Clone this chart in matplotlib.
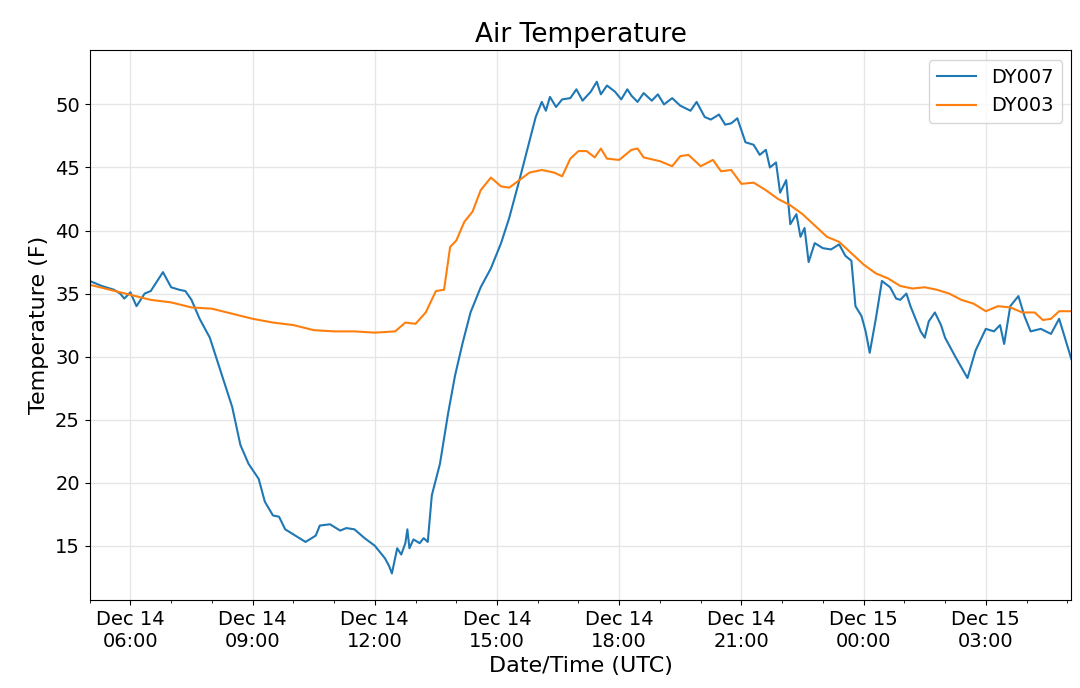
import numpy as np
import pandas as pd
import matplotlib
matplotlib.use("Agg")
import matplotlib.pyplot as plt
import matplotlib.dates as mdates

base = pd.Timestamp("2018-12-14 00:00")

# hours since Dec 14 00:00 UTC, temperature (F)
dy007_hours = [5.0, 5.3, 5.6, 5.75, 5.85, 6.0, 6.15, 6.35, 6.5, 6.8, 7.0, 7.2, 7.35, 7.5, 7.7, 7.95,
               8.2, 8.5, 8.7, 8.9, 9.15, 9.3, 9.5, 9.65, 9.8, 10.05, 10.3, 10.55, 10.65, 10.9, 11.15,
               11.3, 11.5, 11.75, 12.0, 12.25, 12.35, 12.42, 12.55, 12.65, 12.75, 12.8, 12.85, 12.95,
               13.1, 13.2, 13.3, 13.4, 13.6, 13.8, 13.97, 14.15, 14.35, 14.6, 14.85, 15.1, 15.3, 15.55,
               15.75, 15.95, 16.1, 16.2, 16.3, 16.45, 16.6, 16.8, 16.95, 17.1, 17.3, 17.45, 17.55, 17.7,
               17.9, 18.05, 18.2, 18.3, 18.45, 18.6, 18.8, 18.95, 19.1, 19.3, 19.5, 19.75, 19.9, 20.1,
               20.25, 20.45, 20.6, 20.75, 20.9, 21.1, 21.3, 21.45, 21.6, 21.7, 21.85, 21.95, 22.1, 22.2,
               22.35, 22.45, 22.55, 22.65, 22.8, 23.0, 23.2, 23.4, 23.55, 23.7, 23.8, 23.95, 24.05, 24.15,
               24.3, 24.45, 24.65, 24.8, 24.9, 25.05, 25.15, 25.3, 25.4, 25.5, 25.6, 25.75, 25.9, 26.0,
               26.25, 26.55, 26.75, 27.0, 27.2, 27.35, 27.45, 27.6, 27.8, 27.95, 28.1, 28.35, 28.6, 28.8, 29.1]
dy007_temp = [36.0, 35.6, 35.3, 35.0, 34.6, 35.1, 34.0, 35.0, 35.2, 36.7, 35.5, 35.3, 35.2, 34.5, 33.0, 31.5,
              29.0, 26.0, 23.0, 21.5, 20.3, 18.5, 17.4, 17.3, 16.3, 15.8, 15.3, 15.8, 16.6, 16.7, 16.2,
              16.4, 16.3, 15.6, 15.0, 14.0, 13.4, 12.8, 14.8, 14.3, 15.2, 16.3, 14.8, 15.5,
              15.2, 15.6, 15.3, 19.0, 21.5, 25.5, 28.5, 31.0, 33.5, 35.5, 37.0, 39.0, 41.0, 44.0,
              46.5, 49.0, 50.2, 49.5, 50.6, 49.8, 50.4, 50.5, 51.2, 50.3, 51.0, 51.8, 50.8, 51.5,
              51.0, 50.4, 51.2, 50.7, 50.2, 50.9, 50.3, 50.8, 50.0, 50.5, 49.9, 49.5, 50.2, 49.0,
              48.8, 49.2, 48.4, 48.5, 48.9, 47.0, 46.8, 46.0, 46.4, 45.0, 45.4, 43.0, 44.0, 40.5,
              41.3, 39.5, 40.2, 37.5, 39.0, 38.6, 38.5, 38.9, 38.0, 37.6, 34.0, 33.2, 32.0, 30.3,
              33.0, 36.0, 35.5, 34.6, 34.5, 35.0, 34.0, 32.8, 32.0, 31.5, 32.8, 33.5, 32.5, 31.5,
              30.0, 28.3, 30.5, 32.2, 32.0, 32.5, 31.0, 34.0, 34.8, 33.2, 32.0, 32.2, 31.8, 33.0, 29.8]

dy003_hours = [5.0, 5.5, 6.0, 6.5, 7.0, 7.5, 8.0, 8.5, 9.0, 9.5, 10.0, 10.5, 11.0, 11.5, 12.0, 12.5,
               12.75, 13.0, 13.25, 13.5, 13.7, 13.85, 14.0, 14.2, 14.4, 14.6, 14.85, 15.1, 15.3, 15.55,
               15.8, 16.1, 16.4, 16.6, 16.8, 17.0, 17.2, 17.4, 17.55, 17.7, 18.0, 18.3, 18.45, 18.6,
               19.0, 19.3, 19.5, 19.7, 20.0, 20.3, 20.5, 20.75, 21.0, 21.3, 21.6, 21.9, 22.2, 22.5,
               22.8, 23.1, 23.4, 23.7, 24.0, 24.3, 24.6, 24.9, 25.2, 25.5, 25.8, 26.1, 26.4, 26.7,
               27.0, 27.3, 27.6, 27.9, 28.2, 28.4, 28.6, 28.8, 29.1]
dy003_temp = [35.7, 35.3, 34.9, 34.5, 34.3, 33.9, 33.8, 33.4, 33.0, 32.7, 32.5, 32.1, 32.0, 32.0, 31.9, 32.0,
              32.7, 32.6, 33.5, 35.2, 35.3, 38.7, 39.2, 40.7, 41.5, 43.2, 44.2, 43.5, 43.4, 44.0,
              44.6, 44.8, 44.6, 44.3, 45.7, 46.3, 46.3, 45.8, 46.5, 45.7, 45.6, 46.4, 46.5, 45.8,
              45.5, 45.1, 45.9, 46.0, 45.1, 45.6, 44.7, 44.8, 43.7, 43.8, 43.2, 42.5, 42.0, 41.3,
              40.4, 39.5, 39.1, 38.2, 37.3, 36.6, 36.2, 35.6, 35.4, 35.5, 35.3, 35.0, 34.5, 34.2,
              33.6, 34.0, 33.9, 33.5, 33.5, 32.9, 33.0, 33.6, 33.6]

t007 = base + pd.to_timedelta(dy007_hours, unit="h")
t003 = base + pd.to_timedelta(dy003_hours, unit="h")

fig = plt.figure(figsize=(10.8, 6.88), dpi=100)
ax = fig.add_axes([0.083, 0.128, 0.909, 0.799])
ax.plot(t007, dy007_temp, color="#1f77b4", lw=1.5, label="DY007")
ax.plot(t003, dy003_temp, color="#ff7f0e", lw=1.5, label="DY003")

ax.set_xlim(base + pd.Timedelta(hours=5), base + pd.Timedelta(hours=29.1))
ax.set_ylim(10.7, 54.3)
ax.xaxis.set_major_locator(mdates.HourLocator(byhour=[0, 3, 6, 9, 12, 15, 18, 21]))
ax.xaxis.set_minor_locator(mdates.HourLocator())
ax.xaxis.set_major_formatter(mdates.DateFormatter("%b %d\n%H:%M"))
ax.grid(True, color="#e6e6e6", lw=1)
ax.tick_params(labelsize=14)
ax.set_title("Air Temperature", fontsize=19)
ax.set_xlabel("Date/Time (UTC)", fontsize=16)
ax.set_ylabel("Temperature (F)", fontsize=16)
ax.legend(fontsize=14, loc="upper right")
fig.savefig("out.png")
